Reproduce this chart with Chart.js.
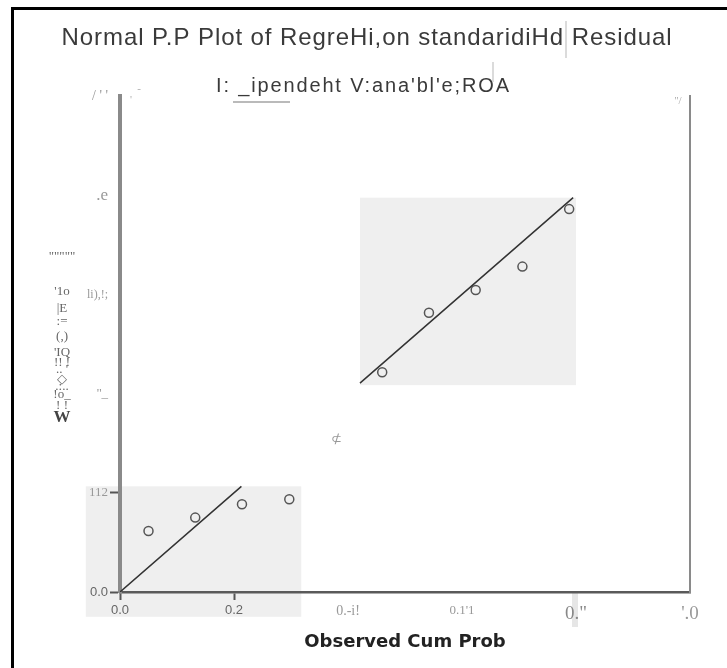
<!DOCTYPE html>
<html><head><meta charset="utf-8">
<script src="https://cdn.jsdelivr.net/npm/chart.js@4/dist/chart.umd.min.js"></script>
<style>html,body{margin:0;padding:0;background:#fff;}#wrap{width:727px;height:668px;position:relative;}</style>
</head><body><div id="wrap"><canvas id="c" width="727" height="668"></canvas></div>
<script>
// ---- text ----
const titleText = "Normal P.P Plot of RegreHi,on standaridiHd Residual";
const subtitleText = "I: _ipendeht V:ana'bl'e;ROA";
const xAxisTitle = "Observed Cum Prob";
const yAxisGlyphs = ['"""""', "'1o", "|E", ":=", "(,)", "'IQ", "!! !", ".. '", "\u25C7", ".:..", "!o_", "! !", "W"];
const strayGlyph = "\u2284";
// ---- ticks ----
const xTickValues = [0, 0.2, 0.4, 0.6, 0.8, 1.0];
const xTickLabels = ["0.0", "0.2", "0.-i!", "0.1'1", "0.\"", "'.0"];
const yTickValues = [0, 0.2, 0.4, 0.6, 0.8, 1.0];
const yTickLabels = ["0.0", "112", "''_", "li),!;", ".e", "/ ' '"];
// ---- data ----
const observedCumProb = [0.050, 0.132, 0.214, 0.297, 0.460, 0.542, 0.624, 0.706, 0.788];
const expectedCumProb = [0.123, 0.150, 0.177, 0.187, 0.443, 0.563, 0.609, 0.656, 0.772];
const diagonalSegments = [[0, 0.213], [0.421, 0.795]];
const patchXRanges = [[-0.06, 0.318], [0.421, 0.80]];
const patchYRanges = [[-0.05, 0.213], [0.417, 0.795]];

// ---- styles (kept apart from data) ----
const SANS = '"Liberation Sans", Arial, sans-serif';
const SERIF = '"Liberation Serif", "Times New Roman", serif';
const xTickFont = [{family:SANS,size:13},{family:SANS,size:13},{family:SERIF,size:14},{family:SERIF,size:13},{family:SERIF,size:19},{family:SERIF,size:19}];
const xTickColor = ['#666','#666','#999','#999','#888','#999'];
const yTickFont = [{family:SANS,size:13},{family:SERIF,size:13},{family:SERIF,size:13},{family:SERIF,size:12},{family:SERIF,size:17},{family:SERIF,size:14}];
const yTickColor = ['#666','#999','#999','#999','#999','#999'];
const glyphY = [257, 292, 309, 322, 337, 353, 363, 370, 380, 387, 395, 406, 418];

const points = observedCumProb.map((x, i) => ({x: x, y: expectedCumProb[i]}));
const lineData = [];
diagonalSegments.forEach((seg, i) => {
  if (i > 0) lineData.push({x: (diagonalSegments[i-1][1] + seg[0]) / 2, y: null});
  lineData.push({x: seg[0], y: seg[0]}, {x: seg[1], y: seg[1]});
});

function fitText(ctx, text, x, y, width, align) {
  ctx.save();
  ctx.textAlign = 'left';
  const w = ctx.measureText(text).width;
  const n = text.length;
  if ('letterSpacing' in ctx) {
    ctx.letterSpacing = ((width - w) / (n - 1)) + 'px';
    const w2 = ctx.measureText(text).width;
    const sx = align === 'center' ? x - w2 / 2 : x;
    ctx.fillText(text, sx, y);
  } else {
    const sx = align === 'center' ? x - width / 2 : x;
    ctx.translate(sx, y); ctx.scale(width / w, 1); ctx.fillText(text, 0, 0);
  }
  ctx.restore();
}

const decor = {
  id: 'decor',
  beforeDraw(chart) {
    const ctx = chart.ctx, xs = chart.scales.x, ys = chart.scales.y;
    ctx.save();
    ctx.fillStyle = '#fff'; ctx.fillRect(0, 0, chart.width, chart.height);
    ctx.fillStyle = '#efefef';
    patchXRanges.forEach((xr, i) => {
      const x0 = xs.getPixelForValue(xr[0]), x1 = xs.getPixelForValue(xr[1]);
      const y0 = ys.getPixelForValue(patchYRanges[i][1]), y1 = ys.getPixelForValue(patchYRanges[i][0]);
      ctx.fillRect(x0, y0, x1 - x0, y1 - y0);
    });
    const sx = xs.getPixelForValue(0.8);
    ctx.fillStyle = '#e6e6e6';
    ctx.fillRect(sx - 4, chart.chartArea.bottom, 6, 35);
    ctx.fillStyle = '#000';
    ctx.fillRect(11, 7, 3, chart.height - 7);
    ctx.fillRect(11, 7, chart.width - 11, 3);
    ctx.restore();
  },
  afterDraw(chart) {
    const ctx = chart.ctx;
    ctx.save();
    ctx.textBaseline = 'alphabetic';
    ctx.fillStyle = '#3a3a3a';
    ctx.font = '24px ' + SANS;
    fitText(ctx, titleText, 367, 45, 610, 'center');
    ctx.font = '20px ' + SANS;
    fitText(ctx, subtitleText, 216, 92, 293, 'left');
    ctx.strokeStyle = '#777'; ctx.lineWidth = 1.2;
    ctx.beginPath(); ctx.moveTo(233, 102); ctx.lineTo(290, 102); ctx.stroke();
    ctx.strokeStyle = '#cfcfcf'; ctx.lineWidth = 1.5;
    ctx.beginPath(); ctx.moveTo(566, 21); ctx.lineTo(566, 58); ctx.stroke();
    ctx.beginPath(); ctx.moveTo(493, 62); ctx.lineTo(493, 82); ctx.stroke();
    ctx.textAlign = 'center'; ctx.textBaseline = 'middle';
    yAxisGlyphs.forEach((g, i) => {
      const last = i === yAxisGlyphs.length - 1;
      ctx.font = (last ? 'bold 17px ' : '13px ') + SERIF;
      ctx.fillStyle = last ? '#444' : '#666';
      ctx.fillText(g, 62, glyphY[i]);
    });
    ctx.fillStyle = '#999';
    ctx.font = '13px ' + SERIF;
    ctx.fillText(strayGlyph, 336, 440);
    ctx.fillStyle = '#aaa';
    ctx.font = '11px ' + SERIF;
    ctx.fillText("''/", 678, 101);
    ctx.fillText("'", 131, 100);
    ctx.fillText("-", 139, 89);
    ctx.restore();
  }
};

new Chart(document.getElementById('c'), {
  type: 'scatter',
  data: {
    datasets: [
      {type: 'line', data: lineData, borderColor: '#333', borderWidth: 1.5, pointRadius: 0, tension: 0, spanGaps: false, fill: false},
      {data: points, showLine: false, pointStyle: 'circle', pointRadius: 4.5, backgroundColor: 'rgba(0,0,0,0)', borderColor: '#555', borderWidth: 1.5}
    ]
  },
  options: {
    responsive: false, animation: false,
    layout: {padding: {top: 96, right: 37, left: 0, bottom: 0}},
    plugins: {legend: {display: false}, tooltip: {enabled: false}, title: {display: false}},
    scales: {
      x: {
        type: 'linear', min: 0, max: 1, position: 'bottom',
        afterBuildTicks: s => { s.ticks = xTickValues.map(v => ({value: v})); },
        afterFit: s => { s.height = 76; },
        ticks: {callback: (v, i) => xTickLabels[i], maxRotation: 0, autoSkip: false, padding: 3,
          font: c => xTickFont[c.index] || xTickFont[0], color: c => xTickColor[c.index] || '#999'},
        grid: {drawOnChartArea: false, drawTicks: true, tickLength: 8, tickWidth: 2,
          tickColor: c => (c.index < 2 ? '#555' : 'rgba(0,0,0,0)')},
        border: {display: true, color: '#5a5a5a', width: 2.5},
        title: {display: true, text: xAxisTitle, color: '#222', font: {family: '"DejaVu Sans", Verdana, sans-serif', size: 18, weight: 'bold'}, padding: {top: 0, bottom: 15}}
      },
      y: {
        type: 'linear', min: 0, max: 1, position: 'left',
        afterBuildTicks: s => { s.ticks = yTickValues.map(v => ({value: v})); },
        afterFit: s => { s.width = 120; },
        ticks: {callback: (v, i) => yTickLabels[i], padding: 2,
          font: c => yTickFont[c.index] || yTickFont[0], color: c => yTickColor[c.index] || '#999'},
        grid: {drawOnChartArea: false, drawTicks: true, tickLength: 10, tickWidth: 2,
          tickColor: c => (c.index < 2 ? '#555' : 'rgba(0,0,0,0)')},
        border: {display: true, color: '#8a8a8a', width: 4}
      },
      y2: {
        type: 'linear', min: 0, max: 1, position: 'right',
        afterFit: s => { s.width = 0; },
        ticks: {display: false},
        grid: {display: false, drawTicks: false},
        border: {display: true, color: '#8a8a8a', width: 2}
      }
    }
  },
  plugins: [decor]
});
</script>
</body></html>
